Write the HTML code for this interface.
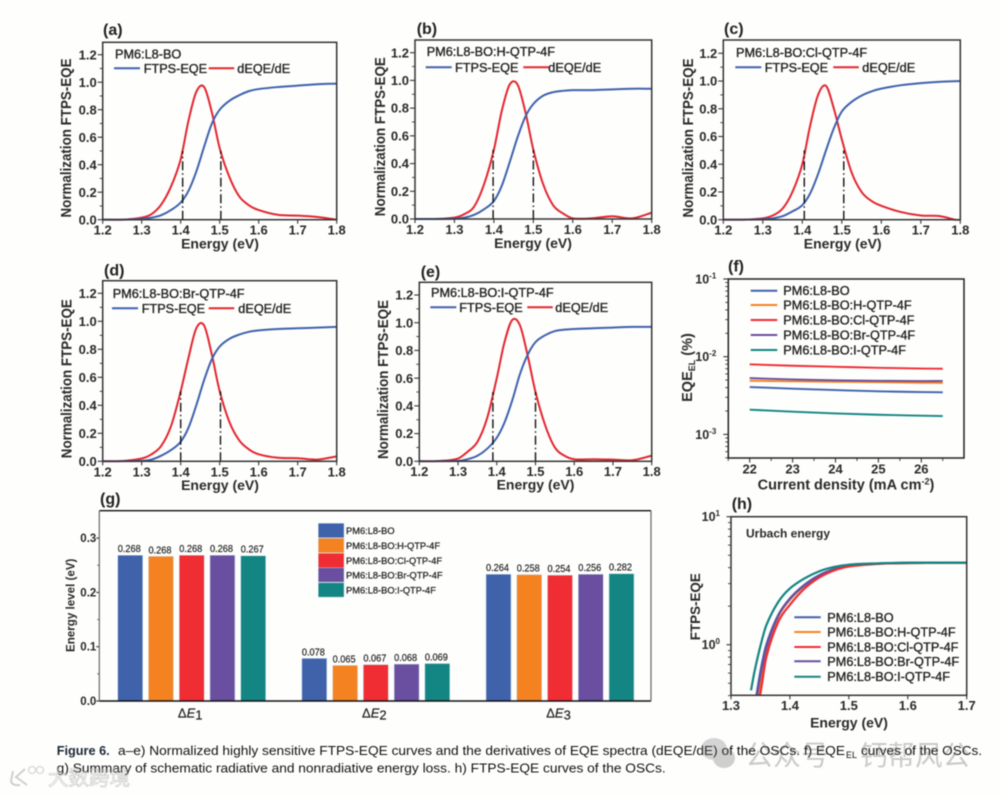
<!DOCTYPE html>
<html lang="en">
<head>
<meta charset="utf-8">
<title>Figure 6 FTPS-EQE curves</title>
<style>
html,body{margin:0;padding:0;background:#fefefd;}
svg{display:block;filter:blur(0.5px);}
text{font-family:"Liberation Sans","Noto Sans CJK SC",sans-serif;fill:#222;}
.b{font-weight:bold;}
.t{font-weight:bold;font-size:13px;fill:#2a2a2a;}
.ax{font-weight:bold;font-size:14px;fill:#2a2a2a;}
.leg{font-size:12.7px;stroke:#222;stroke-width:.35px;fill:#222;}
.pl{font-weight:bold;font-size:16px;fill:#222;}
</style>
</head>
<body>
<svg id="root" xmlns="http://www.w3.org/2000/svg" width="1001" height="795" viewBox="0 0 1001 795">
<rect x="0" y="0" width="1001" height="795" fill="#fefefd"/>
<g id="plots"></g>
<g font-size="13">
<text class="b" x="56.7" y="755" textLength="53" lengthAdjust="spacingAndGlyphs" style="fill:#1d2733">Figure 6.</text>
<text x="118" y="755" textLength="727" lengthAdjust="spacingAndGlyphs" style="fill:#111">a–e) Normalized highly sensitive FTPS-EQE curves and the derivatives of EQE spectra (dEQE/dE) of the OSCs. f) EQE</text>
<text x="846" y="758" font-size="9" textLength="11" lengthAdjust="spacingAndGlyphs" style="fill:#111">EL</text>
<text x="861" y="755" textLength="121" lengthAdjust="spacingAndGlyphs" style="fill:#111">curves of the OSCs.</text>
<text x="56.7" y="772.5" textLength="609" lengthAdjust="spacingAndGlyphs" style="fill:#111">g) Summary of schematic radiative and nonradiative energy loss. h) FTPS-EQE curves of the OSCs.</text>
</g>
<g opacity="0.3">
<ellipse cx="714" cy="749" rx="13" ry="11" fill="#777"/>
<ellipse cx="724" cy="758" rx="11" ry="10" fill="#666"/>
<text x="745" y="765" font-size="28" style="fill:#555">公众号</text>
<text x="860" y="765" font-size="27.5" style="fill:#555">钙帮风公</text>
</g>
<g opacity="0.45">
<path d="M13 771 L11 781 Q12 786 20 785 M25 769 L16 777 L27 785" fill="none" stroke="#999" stroke-width="2"/>
<circle cx="32" cy="770" r="3.5" fill="none" stroke="#aaa" stroke-width="1.3"/>
<circle cx="40" cy="770" r="3.5" fill="none" stroke="#aaa" stroke-width="1.3"/>
<text x="48" y="785" font-size="20.5" style="fill:#fff;stroke:#888;stroke-width:.7px">大数跨境</text>
</g>
</svg>
<script>
// ---- shared energy grid for panels a-e (eV) ----
var energyGrid = [1.2,1.25,1.3,1.325,1.35,1.375,1.4,1.42,1.44,1.46,1.48,1.5,1.525,1.55,1.575,1.6,1.65,1.7,1.75,1.8];
var energyTicks = [1.2,1.3,1.4,1.5,1.6,1.7,1.8];
var normTicks = [0,0.2,0.4,0.6,0.8,1.0,1.2];
// ---- panel a ----
var ftpsA = [0,0,.005,.015,.033,.07,.125,.21,.35,.53,.70,.80,.865,.905,.935,.95,.965,.975,.985,.99];
var deqeA = [0,0,.015,.04,.11,.24,.44,.72,.93,.965,.78,.52,.31,.17,.105,.07,.035,.03,.02,0];
var halfA = [1.405,1.503];
// ---- panel b ----
var ftpsB = [0,0,.003,.01,.03,.07,.13,.24,.41,.59,.74,.83,.89,.915,.925,.93,.93,.935,.94,.94];
var deqeB = [0,0,.01,.035,.09,.25,.5,.78,.97,.97,.77,.5,.25,.1,.04,.005,.005,.02,.005,.045];
var halfB = [1.398,1.5];
// ---- panel c ----
var ftpsC = [0,0,.003,.01,.025,.06,.105,.19,.33,.5,.66,.78,.85,.895,.925,.945,.97,.985,.995,1.0];
var deqeC = [0,0,.01,.03,.08,.2,.4,.68,.9,.965,.8,.58,.34,.2,.135,.1,.055,.03,.025,-.012];
var halfC = [1.405,1.505];
// ---- panel d ----
var ftpsD = [0,0,.003,.012,.04,.08,.14,.24,.4,.58,.73,.82,.875,.905,.925,.935,.945,.95,.955,.96];
var deqeD = [0,.002,.02,.05,.11,.25,.5,.74,.95,.97,.76,.5,.28,.15,.085,.05,.025,.022,.012,.035];
var halfD = [1.4,1.502];
// ---- panel e ----
var ftpsE = [0,0,.003,.015,.04,.09,.17,.28,.44,.63,.77,.86,.91,.94,.95,.955,.96,.965,.97,.97];
var deqeE = [0,.002,.02,.07,.14,.31,.6,.86,1.02,.98,.76,.5,.26,.1,.04,.015,.015,.012,.008,.04];
var halfE = [1.39,1.5];
var halfLevel = 0.5;
// ---- panel f ----
var currentDensity = [22,23,24,25,26,26.5];
var eqeBase = [.00407,.00388,.00372,.00358,.00351,.00348];
var eqeH = [.0049,.00482,.00476,.00470,.00462,.0046];
var eqeCl = [.00798,.00765,.00742,.00720,.00704,.0070];
var eqeBr = [.0053,.00510,.00497,.00490,.00486,.00487];
var eqeI = [.00208,.00196,.00186,.00179,.00174,.00172];
var currentTicks = [22,23,24,25,26];
var blendNames = ['PM6:L8-BO','PM6:L8-BO:H-QTP-4F','PM6:L8-BO:Cl-QTP-4F','PM6:L8-BO:Br-QTP-4F','PM6:L8-BO:I-QTP-4F'];
// ---- panel g ----
var lossCategories = ['1','2','3'];
var lossHeights1 = [.2685,.2665,.2685,.2685,.2675];
var lossHeights2 = [.0785,.0656,.067,.068,.069];
var lossHeights3 = [.2335,.2328,.2318,.2335,.2345];
var lossLabels1 = ['0.268','0.268','0.268','0.268','0.267'];
var lossLabels2 = ['0.078','0.065','0.067','0.068','0.069'];
var lossLabels3 = ['0.264','0.258','0.254','0.256','0.282'];
var levelTicks = [0,0.1,0.2,0.3];
// ---- panel h ----
var urbachEnergy = [1.334,1.34,1.35,1.36,1.38,1.4,1.425,1.45,1.475,1.5,1.55,1.6,1.7];
var urbachBase = [.25,.33,.62,1.0,1.7,2.3,2.95,3.5,3.9,4.15,4.3,4.36,4.38];
var urbachH = [.22,.29,.52,.9,1.65,2.25,2.9,3.45,3.88,4.12,4.3,4.35,4.37];
var urbachCl = [.2,.26,.42,.8,1.5,2.05,2.75,3.35,3.8,4.08,4.28,4.35,4.37];
var urbachBr = [.24,.31,.58,.95,1.68,2.28,2.92,3.48,3.88,4.13,4.3,4.35,4.37];
var urbachI = [.44,.62,.98,1.42,2.15,2.75,3.3,3.75,4.05,4.22,4.32,4.37,4.38];
var urbachTicks = [1.3,1.4,1.5,1.6,1.7];

var NS = 'http://www.w3.org/2000/svg';
var plots = document.getElementById('plots');
var BLUE='#3f62ad', RED='#e2262e';
var seriesColors = {base:'#3f62ab',h:'#f58220',cl:'#ef2d33',br:'#6a4fa0',i:'#138582'};

function mk(tag, attrs, parent, txt){
  var e = document.createElementNS(NS, tag);
  for (var k in attrs) e.setAttribute(k, attrs[k]);
  if (txt !== undefined) e.textContent = txt;
  parent.appendChild(e);
  return e;
}
function smooth(pts){
  var n = pts.length;
  var slope = function(i){
    var a = pts[Math.max(i-1,0)], b = pts[Math.min(i+1,n-1)];
    return (b[1]-a[1])/(b[0]-a[0]);
  };
  var d = 'M'+pts[0][0].toFixed(2)+' '+pts[0][1].toFixed(2);
  for (var i=0;i<n-1;i++){
    var p1=pts[i],p2=pts[i+1],h=(p2[0]-p1[0])/3;
    d+='C'+(p1[0]+h).toFixed(2)+' '+(p1[1]+slope(i)*h).toFixed(2)+' '+(p2[0]-h).toFixed(2)+' '+(p2[1]-slope(i+1)*h).toFixed(2)+' '+p2[0].toFixed(2)+' '+p2[1].toFixed(2);
  }
  return d;
}
function addTick(g,x1,y1,x2,y2,w){
  var t = mk('line',{x1:x1,y1:y1,x2:x2,y2:y2,stroke:'#333','stroke-width':w||1.1},g);
  
  
}
function addTickLabel(g,x,y,anchor,txt,size){
  var t = mk('text',{x:x,y:y,'text-anchor':anchor,'class':'t','font-size':size||13,style:'font-size:'+(size||13)+'px'},g,txt);
  
  
  return t;
}
function addPowerLabel(g,x,y,exp){
  var t = mk('text',{x:x,y:y,'text-anchor':'end','class':'t',style:'font-size:12.5px'},g,'10');
  
  
  var s = mk('tspan',{dy:-5,style:'font-size:8px'},t,String(exp));
  
  
}
function addFrame(g,L,T,R,B,color){
  var f = mk('rect',{x:L,y:T,width:R-L,height:B-T,fill:'none',stroke:color||'#333','stroke-width':1.5},g);
  
  
}
function addPanelLabel(g,x,y,txt){
  var t = mk('text',{x:x,y:y,'class':'pl'},g,txt);
  
  
}
function addTitle(g,x,y,txt,rot,size,len){
  var a = {x:x,y:y,'text-anchor':'middle','class':'ax'};
  if (size) a.style='font-size:'+size+'px';
  if (rot) a.transform='rotate(-90 '+x+' '+y+')';
  if (len){ a.textLength=len; a.lengthAdjust='spacingAndGlyphs'; }
  var t = mk('text',a,g,txt);
  
  
  return t;
}
function addClip(id,L,T,R,B){
  var c = mk('clipPath',{id:id},plots);
  mk('rect',{x:L,y:T,width:R-L,height:B-T},c);
  return c;
}
function addLegendLine(g,x1,x2,y,color){
  var l = mk('line',{x1:x1,x2:x2,y1:y,y2:y,stroke:color,'stroke-width':2},g);
  
  
}
function addLegendText(g,x,y,txt){
  var t = mk('text',{x:x,y:y,'class':'leg'},g,txt);
  
  
}

function normPanel(id,lay,ftps,deqe,half,blend){
  var g = mk('g',{},plots);
  
  
  var unit=(lay.y0-lay.y12)/1.2;
  var sx=function(v){return lay.L+(v-1.2)/.6*(lay.R-lay.L);};
  var sy=function(v){return lay.y0-v*unit;};
  addClip('clip-'+id,lay.L,lay.T,lay.R,lay.y0+1);
  normTicks.forEach(function(v){
    addTick(g,lay.L-5,sy(v),lay.L,sy(v));
    addTickLabel(g,lay.L-6,sy(v)+4.6,'end',v.toFixed(1));
    if (v<1.2) addTick(g,lay.L-3,sy(v+.1),lay.L,sy(v+.1),.9);
  });
  energyTicks.forEach(function(v){
    addTick(g,sx(v),lay.y0,sx(v),lay.y0+4);
    addTickLabel(g,sx(v),lay.tickY,'middle',v.toFixed(1));
  });
  var p1 = mk('path',{d:smooth(energyGrid.map(function(e,i){return [sx(e),sy(deqe[i])];})),fill:'none',stroke:RED,'stroke-width':2,'clip-path':'url(#clip-'+id+')'},g);
  
  
  var p2 = mk('path',{d:smooth(energyGrid.map(function(e,i){return [sx(e),sy(ftps[i])];})),fill:'none',stroke:BLUE,'stroke-width':2,'clip-path':'url(#clip-'+id+')'},g);
  
  
  half.forEach(function(e){
    var h = mk('line',{x1:sx(e),x2:sx(e),y1:sy(0),y2:sy(halfLevel),stroke:'#111','stroke-width':1.4,'stroke-dasharray':'9 3 1.5 3'},g);
    
    
  });
  addFrame(g,lay.L,lay.T,lay.R,lay.y0);
  addPanelLabel(g,lay.labX,lay.labY,'('+id+')');
  addTitle(g,lay.xTitleX,lay.xTitleY,'Energy (eV)');
  addTitle(g,lay.yTitleX,lay.yTitleY,'Normalization FTPS-EQE',true,14.5,159);
  addLegendText(g,lay.nameX,lay.nameY,blend);
  addLegendLine(g,lay.l1,lay.l1+26,lay.legY,BLUE);
  addLegendText(g,lay.t1,lay.legY+4.5,'FTPS-EQE');
  addLegendLine(g,lay.l2,lay.l2+25.5,lay.legY,RED);
  addLegendText(g,lay.t2,lay.legY+4.5,'dEQE/dE');
}

var layoutA={L:102.7,R:336.7,T:42.3,y0:219.7,y12:54.7,tickY:234.3,labX:103,labY:35,xTitleX:220,xTitleY:248.7,yTitleX:71,yTitleY:138,nameX:115,nameY:58.5,l1:114,t1:143.7,l2:208.7,t2:237.3,legY:68.3};
var layoutB={L:415,R:651.7,T:40,y0:219,y12:52.7,tickY:234,labX:416.7,labY:34,xTitleX:533,xTitleY:248,yTitleX:385,yTitleY:136.7,nameX:426.7,nameY:56,l1:425.7,t1:455,l2:523.3,t2:548.3,legY:67.3};
var layoutC={L:723.3,R:960.3,T:40,y0:219.7,y12:53.3,tickY:234.7,labX:724,labY:34,xTitleX:842.7,xTitleY:248.7,yTitleX:693,yTitleY:138,nameX:736,nameY:57,l1:735.3,t1:764.7,l2:833.3,t2:862.3,legY:67.3};
var layoutD={L:102.7,R:336.7,T:280.7,y0:461.3,y12:293.3,tickY:476.3,labX:104,labY:275.7,xTitleX:220,xTitleY:490,yTitleX:71.5,yTitleY:378.7,nameX:112.7,nameY:298,l1:112,t1:141.7,l2:208.7,t2:238.3,legY:308.3};
var layoutE={L:419.3,R:651.7,T:282.3,y0:461.3,y12:295,tickY:476,labX:420.7,labY:277,xTitleX:535.5,xTitleY:489.7,yTitleX:388,yTitleY:379.5,nameX:431,nameY:297,l1:430.3,t1:459.3,l2:527.3,t2:555.3,legY:307.3};

normPanel('a',layoutA,ftpsA,deqeA,halfA,blendNames[0]);
normPanel('b',layoutB,ftpsB,deqeB,halfB,blendNames[1]);
normPanel('c',layoutC,ftpsC,deqeC,halfC,blendNames[2]);
normPanel('d',layoutD,ftpsD,deqeD,halfD,blendNames[3]);
normPanel('e',layoutE,ftpsE,deqeE,halfE,blendNames[4]);

// ---- panel f ----
(function(){
  var g = mk('g',{},plots);
  
  
  var L=728.3,R=964,T=279,B=458;
  var sx=function(v){return 749.7+(v-22)*42.9;};
  var sy=function(v){return 356.7-(Math.log10(v)+2)*77.7;};
  [-1,-2,-3].forEach(function(e){
    var y=sy(Math.pow(10,e));
    addTick(g,L-5,y,L,y);
    addPowerLabel(g,L-12,y+4.5,e);
  });
  [-2,-3,-4].forEach(function(e){
    for (var m=2;m<10;m++){
      var v=m*Math.pow(10,e);
      if (v>=5e-4) addTick(g,L-3,sy(v),L,sy(v),.9);
    }
  });
  currentTicks.forEach(function(v){
    addTick(g,sx(v),B,sx(v),B+4.5);
    addTickLabel(g,sx(v),473.3,'middle',String(v));
    addTick(g,sx(v-.5),B,sx(v-.5),B+3,.9);
  });
  addTick(g,sx(26.5),B,sx(26.5),B+3,.9);
  var set=[[eqeBase,seriesColors.base],[eqeH,seriesColors.h],[eqeCl,seriesColors.cl],[eqeBr,seriesColors.br],[eqeI,seriesColors.i]];
  set.forEach(function(s){
    var p = mk('path',{d:smooth(currentDensity.map(function(x,i){return [sx(x),sy(s[0][i])];})),fill:'none',stroke:s[1],'stroke-width':1.9},g);
    
    
  });
  addFrame(g,L,T,R,B,'#222');
  addPanelLabel(g,728,271.7,'(f)');
  var legY=[290.7,305,320,335,350];
  set.forEach(function(s,i){
    addLegendLine(g,750.7,777.3,legY[i],s[1]);
    addLegendText(g,783.3,legY[i]+4.5,blendNames[i]);
  });
  var xt = addTitle(g,846,489.3,'Current density (mA cm',false,14.5);
  var sup = mk('tspan',{dy:-5,style:'font-size:9px'},xt,'-2');
  
  
  var close = mk('tspan',{dy:5},xt,')');
  
  
  var yt = addTitle(g,692,367.5,'EQE',true,14.5);
  var sub = mk('tspan',{dy:3,style:'font-size:9px'},yt,'EL');
  
  
  var rest = mk('tspan',{dy:-3},yt,' (%)');
  
  
})();

// ---- panel g ----
(function(){
  var g = mk('g',{},plots);
  
  
  var L=99.3,R=651,T=510.7,B=701;
  var sy=function(v){return B-v*543;};
  var groupX=function(i){return 117.7+i*184.15;};
  var barX=function(j){return j*30.75;};
  var barW=25;
  var colors=[seriesColors.base,seriesColors.h,seriesColors.cl,seriesColors.br,seriesColors.i];
  var heights=[lossHeights1,lossHeights2,lossHeights3];
  var labels=[lossLabels1,lossLabels2,lossLabels3];
  levelTicks.forEach(function(v){
    addTick(g,L-3,sy(v),L,sy(v));
    addTickLabel(g,L-3,sy(v)+4,'end',v.toFixed(1),11.5);
    if (v<0.3) addTick(g,L-2,sy(v+.05),L,sy(v+.05),.8);
  });
  heights.forEach(function(arr,i){
    arr.forEach(function(v,j){
      var r = mk('rect',{x:groupX(i)+barX(j),y:sy(v),width:barW,height:B-sy(v),fill:colors[j],stroke:'#cfe4ee','stroke-width':.5},g);
      
      
      var t = mk('text',{x:groupX(i)+barX(j)+barW/2-1,y:sy(v)-3,'text-anchor':'middle','font-size':10.2,textLength:23,lengthAdjust:'spacingAndGlyphs',stroke:'#222','stroke-width':.2,style:'fill:#222'},g,labels[i][j]);
      
      
    });
    var c = mk('text',{x:groupX(i)+72.5,y:717.7,'text-anchor':'middle','font-size':13,stroke:'#222','stroke-width':.2,style:'fill:#222'},g,'Δ');
    
    
    var e1 = mk('tspan',{'font-style':'italic'},c,'E');
    
    
    var e2 = mk('tspan',{dy:2},c,lossCategories[i]);
    
    
  });
  var f1 = mk('line',{x1:L,x2:R,y1:T,y2:T,stroke:'#111','stroke-width':1.4},g);
  
  
  var f2 = mk('line',{x1:L,x2:R,y1:B,y2:B,stroke:'#111','stroke-width':1.5},g);
  
  
  var f3 = mk('line',{x1:L,x2:L,y1:T,y2:B,stroke:'#666','stroke-width':1.2},g);
  
  
  var f4 = mk('line',{x1:R,x2:R,y1:T,y2:B,stroke:'#666','stroke-width':1.2},g);
  
  
  addPanelLabel(g,100,504,'(g)');
  addTitle(g,74.5,605.3,'Energy level (eV)',true,11.6);
  var swT=[523.3,538.3,553.3,567.7,582.7];
  colors.forEach(function(c,i){
    var s = mk('rect',{x:318.3,y:swT[i],width:25.7,height:14.4,fill:c,stroke:'#cfe4ee','stroke-width':.4},g);
    
    
    var t = mk('text',{x:346,y:swT[i]+10.7,'font-size':9.3,stroke:'#222','stroke-width':.25,style:'fill:#222'},g,blendNames[i]);
    
    
  });
})();

// ---- panel h ----
(function(){
  var g = mk('g',{},plots);
  
  
  var L=731,R=966.7,T=516.7,B=695.3;
  var sx=function(v){return L+(v-1.3)/.4*(R-L);};
  var sy=function(v){return 644.7-Math.log10(v)*128;};
  addClip('clip-h',L,T,R,B);
  [1,0].forEach(function(e){
    var y=sy(Math.pow(10,e));
    addTick(g,L-4.5,y,L,y);
    addPowerLabel(g,L-11,y+4.5,e);
  });
  [2,3,4,5,6,7,8,9,.4,.5,.6,.7,.8,.9].forEach(function(v){
    addTick(g,L-3,sy(v),L,sy(v),.9);
  });
  urbachTicks.forEach(function(v){
    addTick(g,sx(v),B,sx(v),B+4);
    addTickLabel(g,sx(v),710,'middle',v.toFixed(1));
  });
  var set=[[urbachBase,seriesColors.base],[urbachH,seriesColors.h],[urbachBr,seriesColors.br],[urbachCl,seriesColors.cl],[urbachI,seriesColors.i]];
  set.forEach(function(s){
    var p = mk('path',{d:smooth(urbachEnergy.map(function(x,i){return [sx(x),sy(s[0][i])];})),fill:'none',stroke:s[1],'stroke-width':2.2,'clip-path':'url(#clip-h)'},g);
    
    
  });
  addFrame(g,L,T,R,B);
  addPanelLabel(g,731.7,509,'(h)');
  addTitle(g,849,727.3,'Energy (eV)');
  addTitle(g,700,606.7,'FTPS-EQE',true,14,67);
  var u = mk('text',{x:746,y:537.3,'class':'b','font-size':12,style:'fill:#2a2a2a'},g,'Urbach energy');
  
  
  var legY=[617.3,632,647,661.3,676.7];
  var legC=[seriesColors.base,seriesColors.h,seriesColors.cl,seriesColors.br,seriesColors.i];
  legC.forEach(function(c,i){
    addLegendLine(g,794.3,820.7,legY[i],c);
    addLegendText(g,827.3,legY[i]+4.5,blendNames[i]);
  });
})();
</script>
</body>
</html>
